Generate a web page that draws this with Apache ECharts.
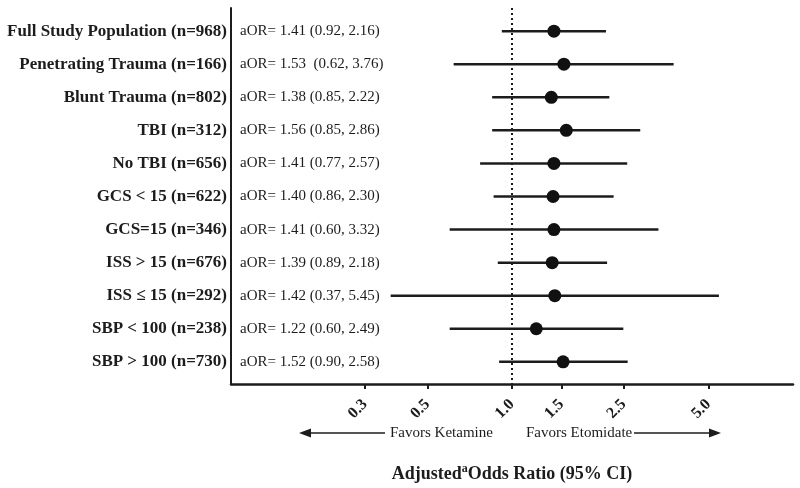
<!DOCTYPE html>
<html>
<head>
<meta charset="utf-8">
<script src="https://cdn.jsdelivr.net/npm/echarts@6/dist/echarts.min.js"></script>
<style>
  html, body { margin: 0; padding: 0; background: #fff; }
  #chart { width: 800px; height: 488px; }
</style>
</head>
<body>
<div id="chart"></div>
<script>
const categories = [
  'Full Study Population (n=968)',
  'Penetrating Trauma (n=166)',
  'Blunt Trauma (n=802)',
  'TBI (n=312)',
  'No TBI (n=656)',
  'GCS < 15 (n=622)',
  'GCS=15 (n=346)',
  'ISS > 15 (n=676)',
  'ISS \u2264 15 (n=292)',
  'SBP < 100 (n=238)',
  'SBP > 100 (n=730)'
];
const aor    = [1.41, 1.53, 1.38, 1.56, 1.41, 1.40, 1.41, 1.39, 1.42, 1.22, 1.52];
const ciLow  = [0.92, 0.62, 0.85, 0.85, 0.77, 0.86, 0.60, 0.89, 0.37, 0.60, 0.90];
const ciHigh = [2.16, 3.76, 2.22, 2.86, 2.57, 2.30, 3.32, 2.18, 5.45, 2.49, 2.58];
const xTickValues = [0.3, 0.5, 1.0, 1.5, 2.5, 5.0];
const xTickLabels = ['0.3', '0.5', '1.0', '1.5', '2.5', '5.0'];
const referenceValue = 1.0;

const rows = categories.map((c, i) => i + 1);
const aorTexts = aor.map((v, i) =>
  'aOR= ' + v.toFixed(2) + (i === 1 ? '  (' : ' (') + ciLow[i].toFixed(2) + ', ' + ciHigh[i].toFixed(2) + ')');

const INK = '#1c1c1c';
const FONT = 'Liberation Serif';

const chart = echarts.init(document.getElementById('chart'), null, { renderer: 'canvas' });

const yBase = {
  type: 'value',
  inverse: true,
  min: 0.3,
  max: 11.67,
  splitLine: { show: false },
  axisTick: { show: false }
};

const option = {
  backgroundColor: '#fff',
  animation: false,
  grid: { left: 231, right: 7, top: 8, bottom: 104, containLabel: false, outerBoundsMode: 'none' },
  xAxis: {
    type: 'log',
    logBase: 10,
    min: 0.1,
    max: 10,
    splitLine: { show: false },
    axisLine: { show: true, lineStyle: { color: INK, width: 2.5 } },
    axisTick: { show: true, customValues: xTickValues, length: 5, lineStyle: { color: INK, width: 2 } },
    axisLabel: {
      customValues: xTickValues,
      rotate: 45,
      margin: 18,
      color: INK,
      fontFamily: FONT,
      fontWeight: 'bold',
      fontSize: 16,
      formatter: function (v) {
        const idx = xTickValues.findIndex(t => Math.abs(t - v) < 1e-6);
        return idx >= 0 ? xTickLabels[idx] : '';
      }
    },
    name: '{b|Adjusted}{sup|a}{b|Odds Ratio (95% CI)}',
    nameLocation: 'middle',
    nameGap: 79,
    nameTextStyle: {
      rich: {
        b: { fontFamily: FONT, fontWeight: 'bold', fontSize: 18, color: INK },
        sup: { fontFamily: FONT, fontWeight: 'bold', fontSize: 12, color: INK, verticalAlign: 'top', padding: [0, 0, 10, 0] }
      }
    }
  },
  yAxis: [
    Object.assign({}, yBase, {
      axisLine: { show: true, lineStyle: { color: INK, width: 2 } },
      axisLabel: {
        customValues: rows,
        margin: 4,
        color: INK,
        fontFamily: FONT,
        fontWeight: 'bold',
        fontSize: 17,
        formatter: function (v) { return categories[Math.round(v) - 1] || ''; }
      }
    }),
    Object.assign({}, yBase, {
      position: 'left',
      axisLine: { show: false },
      axisLabel: {
        inside: true,
        customValues: rows,
        margin: 9,
        color: INK,
        fontFamily: FONT,
        fontSize: 15,
        formatter: function (v) { return aorTexts[Math.round(v) - 1] || ''; }
      }
    })
  ],
  series: [
    {
      type: 'custom',
      yAxisIndex: 0,
      data: rows.map((r, i) => [ciLow[i], ciHigh[i], r]),
      encode: { x: [0, 1], y: 2 },
      renderItem: function (params, api) {
        const p1 = api.coord([api.value(0), api.value(2)]);
        const p2 = api.coord([api.value(1), api.value(2)]);
        return {
          type: 'line',
          shape: { x1: p1[0], y1: p1[1], x2: p2[0], y2: p2[1] },
          style: { stroke: INK, lineWidth: 2.5 }
        };
      },
      z: 3
    },
    {
      type: 'scatter',
      yAxisIndex: 0,
      data: rows.map((r, i) => [aor[i], r]),
      symbol: 'circle',
      symbolSize: 13,
      itemStyle: { color: '#111', opacity: 1 },
      z: 4,
      markLine: {
        silent: true,
        symbol: 'none',
        label: { show: false },
        lineStyle: { color: INK, type: [2, 3], width: 2, opacity: 1 },
        data: [{ xAxis: referenceValue }],
        z: 2
      }
    }
  ],
  graphic: [
    { type: 'line', shape: { x1: 306, y1: 433, x2: 385, y2: 433 }, style: { stroke: INK, lineWidth: 1.3 } },
    { type: 'polygon', shape: { points: [[299, 433], [311, 428.5], [311, 437.5]] }, style: { fill: INK } },
    { type: 'text', left: 390, top: 426, style: { text: 'Favors Ketamine', font: '15px "Liberation Serif"', fill: INK } },
    { type: 'text', left: 526, top: 426, style: { text: 'Favors Etomidate', font: '15px "Liberation Serif"', fill: INK } },
    { type: 'line', shape: { x1: 634, y1: 433, x2: 714, y2: 433 }, style: { stroke: INK, lineWidth: 1.3 } },
    { type: 'polygon', shape: { points: [[721, 433], [709, 428.5], [709, 437.5]] }, style: { fill: INK } }
  ]
};

chart.setOption(option);
</script>
</body>
</html>
